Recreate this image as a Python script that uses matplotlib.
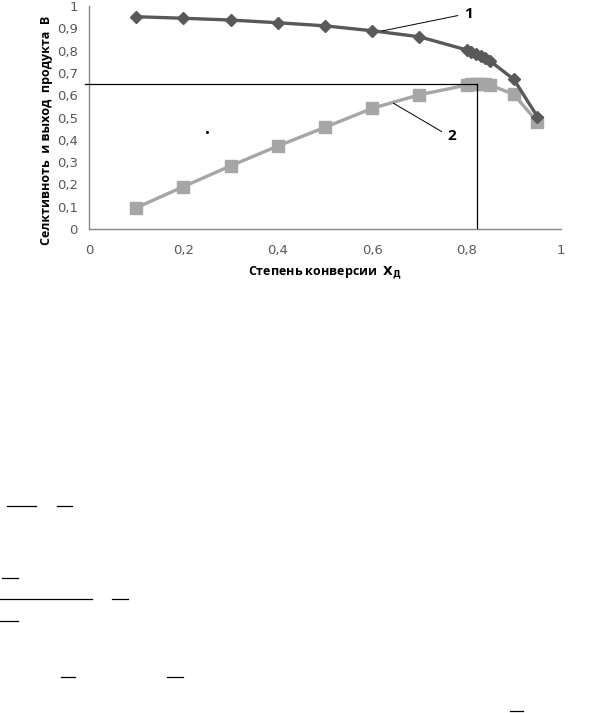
import matplotlib
matplotlib.use("Agg")
import matplotlib.pyplot as plt
from matplotlib.lines import Line2D

plt.rcParams['font.family'] = ['DejaVu Sans']

# conversion X_A and the two curves (1 - selectivity, 2 - yield of B)
conversion = [0.1, 0.2, 0.3, 0.4, 0.5, 0.6, 0.7, 0.8, 0.81, 0.82, 0.83, 0.84, 0.85, 0.9, 0.95]
selectivity = [0.952, 0.945, 0.937, 0.925, 0.911, 0.889, 0.862, 0.803, 0.795, 0.785,
               0.775, 0.765, 0.753, 0.671, 0.504]
yield_b = [0.095, 0.19, 0.283, 0.372, 0.456, 0.541, 0.602, 0.645, 0.648, 0.65,
           0.65, 0.648, 0.645, 0.604, 0.48]

# optimum point marked with guide lines
x_opt = 0.821
y_opt = 0.65

x_ticks = [0, 0.2, 0.4, 0.6, 0.8, 1]
x_tick_labels = ["0", "0,2", "0,4", "0,6", "0,8", "1"]
y_ticks = [0, 0.1, 0.2, 0.3, 0.4, 0.5, 0.6, 0.7, 0.8, 0.9, 1]
y_tick_labels = ["0", "0,1", "0,2", "0,3", "0,4", "0,5", "0,6", "0,7", "0,8", "0,9", "1"]

W, H = 610, 713
fig = plt.figure(figsize=(W / 100, H / 100), dpi=100)
ax = fig.add_axes([89 / W, 1 - 229 / H, (561 - 89) / W, (229 - 6) / H])

ax.plot(conversion, selectivity, color="#595959", linewidth=2.4, marker="D",
        markersize=6.5, markerfacecolor="#595959", markeredgecolor="#595959", zorder=3)
ax.plot(conversion, yield_b, color="#a6a6a6", linewidth=2.4, marker="s",
        markersize=8, markerfacecolor="#a6a6a6", markeredgecolor="#a6a6a6", zorder=2)

# guide lines to the maximum of the yield
ax.plot([-0.009, x_opt], [y_opt, y_opt], color="black", linewidth=0.9, clip_on=False, zorder=4)
ax.plot([x_opt, x_opt], [0, y_opt], color="black", linewidth=0.9, zorder=4)

# curve numbers with leader lines
ax.plot([0.621, 0.781], [0.888, 0.957], color="black", linewidth=0.7, zorder=4)
ax.text(0.805, 0.964, "1", fontsize=11, fontweight="bold", ha="center", va="center",
        family=["Open Sans", "DejaVu Sans"])
ax.plot([0.645, 0.747], [0.564, 0.437], color="black", linewidth=0.7, zorder=4)
ax.text(0.769, 0.417, "2", fontsize=11, fontweight="bold", ha="center", va="center",
        family=["Open Sans", "DejaVu Sans"])
ax.plot([0.249], [0.434], marker="s", markersize=1, color="black", linestyle="none")

ax.set_xlim(0, 1)
ax.set_ylim(0, 1)
ax.set_xticks(x_ticks)
ax.set_xticklabels(x_tick_labels)
ax.set_yticks(y_ticks)
ax.set_yticklabels(y_tick_labels)
ax.tick_params(axis="both", length=0, labelsize=9.5, labelcolor="#595959")
ax.tick_params(axis="x", pad=11)
ax.tick_params(axis="y", pad=8)

for side in ["top", "right"]:
    ax.spines[side].set_visible(False)
for side in ["left", "bottom"]:
    ax.spines[side].set_color("#868686")
    ax.spines[side].set_linewidth(1)

ax.set_xlabel("Степень конверсии  $\\mathbf{X}_{\\mathbf{Д}}$", fontsize=9, fontweight="bold",
              family=["Open Sans", "DejaVu Sans"])
ax.xaxis.set_label_coords(0.5, -0.196)
ax.xaxis.label.set_va("center")
ax.set_ylabel("Селктивноть  и выход  продукта  В", fontsize=9, fontweight="bold",
              family=["Open Sans", "DejaVu Sans"])
ax.yaxis.set_label_coords(-0.089, 0.444)
ax.yaxis.label.set_va("center")

# fragments of fraction bars from the page below the chart
page_rules = [(7, 36, 506), (57, 72, 506), (2, 18, 578), (0, 92, 599), (112, 128, 599),
              (0, 18, 621), (61, 75, 677), (167, 183, 677), (510, 523, 711)]
for x0, x1, y in page_rules:
    fig.add_artist(Line2D([x0 / W, x1 / W], [1 - y / H, 1 - y / H],
                          transform=fig.transFigure, color="black", linewidth=0.9))

fig.savefig("out.png", dpi=100)
